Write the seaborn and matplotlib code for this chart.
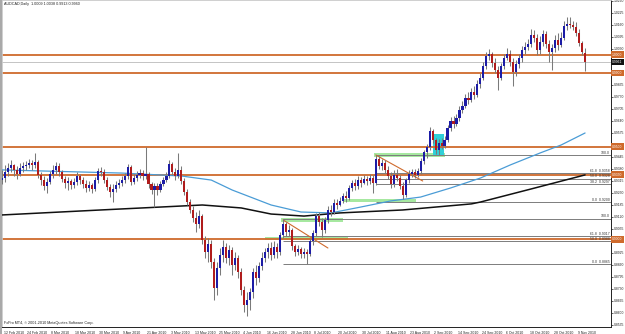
import numpy as np
import matplotlib
matplotlib.use("Agg")
import matplotlib.pyplot as plt
import matplotlib.transforms as mtransforms
from matplotlib.patches import Rectangle
import seaborn as sns

# ---------------- data ----------------
date_labels = ["12 Feb 2010", "24 Feb 2010", "8 Mar 2010", "18 Mar 2010", "30 Mar 2010",
               "9 Apr 2010", "21 Apr 2010", "3 May 2010", "13 May 2010", "25 May 2010",
               "4 Jun 2010", "16 Jun 2010", "28 Jun 2010", "8 Jul 2010", "20 Jul 2010",
               "30 Jul 2010", "11 Aug 2010", "23 Aug 2010", "2 Sep 2010", "14 Sep 2010",
               "24 Sep 2010", "6 Oct 2010", "18 Oct 2010", "28 Oct 2010", "9 Nov 2010"]
date_bars = [0, 8, 16, 24, 32, 40, 48, 56, 64, 72, 80, 88, 96, 104, 112, 120,
             128, 136, 144, 152, 160, 168, 176, 184, 192]

opens = [0.9320, 0.9331, 0.9364, 0.9385, 0.9401, 0.9375, 0.9353, 0.9385, 0.9396, 0.9401,
         0.9412, 0.9401, 0.9418, 0.9348, 0.9320, 0.9288, 0.9310, 0.9353, 0.9375, 0.9396,
         0.9364, 0.9326, 0.9304, 0.9315, 0.9293, 0.9310, 0.9342, 0.9320, 0.9299, 0.9277,
         0.9293, 0.9272, 0.9320, 0.9369, 0.9364, 0.9320, 0.9283, 0.9256, 0.9272, 0.9293,
         0.9304, 0.9320, 0.9342, 0.9391, 0.9310, 0.9331, 0.9348, 0.9358, 0.9342, 0.9353,
         0.9299, 0.9266, 0.9288, 0.9266, 0.9299, 0.9320, 0.9342, 0.9407, 0.9364, 0.9342,
         0.9375, 0.9315, 0.9256, 0.9201, 0.9158, 0.9115, 0.9082, 0.9125, 0.8995, 0.8930,
         0.8974, 0.8876, 0.8736, 0.8844, 0.8914, 0.8958, 0.8898, 0.8941, 0.8860, 0.8898,
         0.8822, 0.8725, 0.8643, 0.8670, 0.8714, 0.8822, 0.8790, 0.8855, 0.8898, 0.8930,
         0.8952, 0.8914, 0.8958, 0.8930, 0.9023, 0.9082, 0.9039, 0.9050, 0.8963, 0.8930,
         0.8947, 0.8920, 0.8930, 0.8920, 0.8990, 0.9034, 0.9125, 0.9093, 0.9050, 0.9104,
         0.9158, 0.9147, 0.9196, 0.9185, 0.9207, 0.9234, 0.9223, 0.9277, 0.9304, 0.9288,
         0.9320, 0.9304, 0.9326, 0.9315, 0.9331, 0.9304, 0.9434, 0.9396, 0.9412, 0.9375,
         0.9342, 0.9299, 0.9348, 0.9331, 0.9288, 0.9239, 0.9320, 0.9353, 0.9364, 0.9348,
         0.9369, 0.9423, 0.9472, 0.9499, 0.9586, 0.9537, 0.9483, 0.9521, 0.9505, 0.9537,
         0.9602, 0.9640, 0.9624, 0.9656, 0.9700, 0.9721, 0.9765, 0.9754, 0.9797, 0.9781,
         0.9840, 0.9873, 0.9938, 0.9992, 1.0003, 0.9954, 0.9916, 0.9873, 0.9938, 0.9981,
         1.0003, 0.9960, 0.9905, 0.9949, 0.9981, 1.0025, 1.0041, 1.0057, 1.0106, 1.0090,
         1.0025, 1.0068, 1.0112, 1.0057, 1.0014, 1.0035, 1.0079, 1.0052, 1.0090, 1.0155,
         1.0165, 1.0160, 1.0149, 1.0117, 1.0063, 1.0009]

highs = [0.9375, 0.9401, 0.9412, 0.9429, 0.9407, 0.9396, 0.9412, 0.9418, 0.9423, 0.9434,
         0.9429, 0.9467, 0.9429, 0.9364, 0.9342, 0.9331, 0.9369, 0.9401, 0.9418, 0.9412,
         0.9375, 0.9342, 0.9337, 0.9326, 0.9331, 0.9364, 0.9353, 0.9337, 0.9320, 0.9315,
         0.9304, 0.9337, 0.9385, 0.9391, 0.9380, 0.9337, 0.9299, 0.9299, 0.9315, 0.9326,
         0.9342, 0.9358, 0.9407, 0.9401, 0.9353, 0.9369, 0.9380, 0.9375, 0.9499, 0.9364,
         0.9310, 0.9304, 0.9304, 0.9315, 0.9337, 0.9364, 0.9429, 0.9418, 0.9385, 0.9467,
         0.9396, 0.9331, 0.9272, 0.9218, 0.9180, 0.9147, 0.9158, 0.9136, 0.9017, 0.9007,
         0.8995, 0.8898, 0.8876, 0.8952, 0.8995, 0.8979, 0.8969, 0.8958, 0.8930, 0.8914,
         0.8844, 0.8746, 0.8714, 0.8736, 0.8844, 0.8860, 0.8876, 0.8930, 0.8952, 0.8979,
         0.8985, 0.8990, 0.8979, 0.9039, 0.9109, 0.9093, 0.9077, 0.9061, 0.8974, 0.8969,
         0.8958, 0.8952, 0.8947, 0.9007, 0.9050, 0.9142, 0.9147, 0.9115, 0.9120, 0.9180,
         0.9185, 0.9218, 0.9218, 0.9229, 0.9250, 0.9261, 0.9293, 0.9320, 0.9326, 0.9342,
         0.9337, 0.9348, 0.9342, 0.9353, 0.9348, 0.9456, 0.9450, 0.9434, 0.9429, 0.9396,
         0.9364, 0.9375, 0.9380, 0.9348, 0.9310, 0.9331, 0.9375, 0.9380, 0.9380, 0.9385,
         0.9440, 0.9483, 0.9516, 0.9607, 0.9597, 0.9548, 0.9542, 0.9548, 0.9559, 0.9618,
         0.9662, 0.9667, 0.9678, 0.9721, 0.9748, 0.9786, 0.9797, 0.9819, 0.9829, 0.9862,
         0.9900, 0.9960, 1.0014, 1.0030, 1.0014, 0.9981, 0.9938, 0.9954, 1.0003, 1.0035,
         1.0025, 0.9981, 0.9970, 1.0003, 1.0046, 1.0068, 1.0084, 1.0138, 1.0133, 1.0112,
         1.0100, 1.0133, 1.0128, 1.0079, 1.0057, 1.0106, 1.0117, 1.0122, 1.0182, 1.0203,
         1.0203, 1.0182, 1.0176, 1.0138, 1.0073, 1.0038]

lows = [0.9299, 0.9310, 0.9342, 0.9364, 0.9342, 0.9326, 0.9342, 0.9364, 0.9375, 0.9385,
        0.9375, 0.9385, 0.9331, 0.9293, 0.9266, 0.9250, 0.9299, 0.9331, 0.9353, 0.9342,
        0.9310, 0.9277, 0.9266, 0.9272, 0.9277, 0.9293, 0.9299, 0.9277, 0.9256, 0.9261,
        0.9250, 0.9261, 0.9304, 0.9342, 0.9304, 0.9266, 0.9229, 0.9201, 0.9256, 0.9277,
        0.9288, 0.9304, 0.9326, 0.9293, 0.9299, 0.9315, 0.9331, 0.9320, 0.9326, 0.9277,
        0.9245, 0.9174, 0.9239, 0.9256, 0.9288, 0.9310, 0.9331, 0.9348, 0.9320, 0.9331,
        0.9299, 0.9239, 0.9185, 0.9142, 0.9093, 0.9039, 0.9061, 0.8974, 0.8898, 0.8876,
        0.8844, 0.8670, 0.8698, 0.8806, 0.8876, 0.8871, 0.8860, 0.8806, 0.8833, 0.8790,
        0.8698, 0.8605, 0.8584, 0.8616, 0.8682, 0.8752, 0.8768, 0.8833, 0.8876, 0.8898,
        0.8887, 0.8898, 0.8898, 0.8914, 0.9007, 0.9017, 0.9017, 0.8941, 0.8909, 0.8914,
        0.8898, 0.8898, 0.8866, 0.8909, 0.8969, 0.9017, 0.9071, 0.9012, 0.9034, 0.9088,
        0.9125, 0.9136, 0.9163, 0.9180, 0.9196, 0.9201, 0.9212, 0.9261, 0.9266, 0.9272,
        0.9283, 0.9299, 0.9293, 0.9299, 0.9250, 0.9293, 0.9380, 0.9375, 0.9358, 0.9326,
        0.9277, 0.9283, 0.9315, 0.9272, 0.9218, 0.9229, 0.9304, 0.9337, 0.9331, 0.9337,
        0.9353, 0.9407, 0.9440, 0.9483, 0.9521, 0.9461, 0.9456, 0.9488, 0.9494, 0.9526,
        0.9586, 0.9602, 0.9613, 0.9640, 0.9683, 0.9711, 0.9732, 0.9743, 0.9759, 0.9770,
        0.9819, 0.9862, 0.9922, 0.9970, 0.9933, 0.9900, 0.9808, 0.9862, 0.9922, 0.9970,
        0.9938, 0.9829, 0.9884, 0.9927, 0.9960, 1.0003, 1.0025, 1.0041, 1.0068, 0.9997,
        1.0003, 1.0046, 1.0035, 0.9960, 0.9916, 1.0014, 1.0025, 1.0041, 1.0079, 1.0133,
        1.0144, 1.0133, 1.0100, 1.0046, 0.9997, 0.9913]

closes = [0.9331, 0.9364, 0.9385, 0.9401, 0.9375, 0.9353, 0.9385, 0.9396, 0.9401, 0.9412,
          0.9401, 0.9418, 0.9348, 0.9320, 0.9288, 0.9310, 0.9353, 0.9375, 0.9396, 0.9364,
          0.9326, 0.9304, 0.9315, 0.9293, 0.9310, 0.9342, 0.9320, 0.9299, 0.9277, 0.9293,
          0.9272, 0.9320, 0.9369, 0.9364, 0.9320, 0.9283, 0.9256, 0.9272, 0.9293, 0.9304,
          0.9320, 0.9342, 0.9391, 0.9310, 0.9331, 0.9348, 0.9358, 0.9342, 0.9353, 0.9299,
          0.9266, 0.9288, 0.9266, 0.9299, 0.9320, 0.9342, 0.9407, 0.9364, 0.9342, 0.9375,
          0.9315, 0.9256, 0.9201, 0.9158, 0.9115, 0.9082, 0.9125, 0.8995, 0.8930, 0.8974,
          0.8876, 0.8736, 0.8844, 0.8914, 0.8958, 0.8898, 0.8941, 0.8860, 0.8898, 0.8822,
          0.8725, 0.8643, 0.8670, 0.8714, 0.8822, 0.8790, 0.8855, 0.8898, 0.8930, 0.8952,
          0.8914, 0.8958, 0.8930, 0.9023, 0.9082, 0.9039, 0.9050, 0.8963, 0.8930, 0.8947,
          0.8920, 0.8930, 0.8920, 0.8990, 0.9034, 0.9125, 0.9093, 0.9050, 0.9104, 0.9158,
          0.9147, 0.9196, 0.9185, 0.9207, 0.9234, 0.9223, 0.9277, 0.9304, 0.9288, 0.9320,
          0.9304, 0.9326, 0.9315, 0.9331, 0.9304, 0.9434, 0.9396, 0.9412, 0.9375, 0.9342,
          0.9299, 0.9348, 0.9331, 0.9288, 0.9239, 0.9320, 0.9353, 0.9364, 0.9348, 0.9369,
          0.9423, 0.9472, 0.9499, 0.9586, 0.9537, 0.9483, 0.9521, 0.9505, 0.9537, 0.9602,
          0.9640, 0.9624, 0.9656, 0.9700, 0.9721, 0.9765, 0.9754, 0.9797, 0.9781, 0.9840,
          0.9873, 0.9938, 0.9992, 1.0003, 0.9954, 0.9916, 0.9873, 0.9938, 0.9981, 1.0003,
          0.9960, 0.9905, 0.9949, 0.9981, 1.0025, 1.0041, 1.0057, 1.0106, 1.0090, 1.0025,
          1.0068, 1.0112, 1.0057, 1.0014, 1.0035, 1.0079, 1.0052, 1.0090, 1.0155, 1.0165,
          1.0160, 1.0149, 1.0117, 1.0063, 1.0014, 0.9960]

# moving averages (bar index, price)
blue_ma_bars = [0, 40, 60, 70, 77, 90, 100, 110, 120, 130, 140, 150, 160, 170, 180, 187, 195]
blue_ma = [0.9375, 0.9358, 0.9342, 0.9320, 0.9266, 0.9185, 0.9147, 0.9142, 0.9174, 0.9207,
           0.9228, 0.9277, 0.9331, 0.9402, 0.9467, 0.9510, 0.9575]
black_ma_bars = [0, 33, 67, 80, 90, 101, 113, 134, 157, 160, 177, 195]
black_ma = [0.9131, 0.9158, 0.9185, 0.9169, 0.9136, 0.9125, 0.9142, 0.9158, 0.9191, 0.9201,
            0.9272, 0.9348]

# horizontal levels
level_prices = [1.0000, 0.9900, 0.9500, 0.9350, 0.9000]
level_labels = ["1.0000", "0.9900", "0.9500", "0.9350", "0.9000"]
bid_price = 0.9960
bid_label = "0.9961"

price_ticks = [1.0290, 1.0225, 1.0160, 1.0095, 1.0030, 0.9965, 0.9900, 0.9835, 0.9770,
               0.9705, 0.9640, 0.9575, 0.9510, 0.9445, 0.9380, 0.9315, 0.9250, 0.9185,
               0.9120, 0.9055, 0.8990, 0.8925, 0.8860, 0.8795, 0.8730, 0.8665, 0.8600,
               0.8535]
# ticks whose labels sit under the coloured price boxes on the scale
hidden_ticks = [0.9965, 0.9900, 0.9510, 0.8990]

# fibonacci retracements
fib1_start = 125
fib1_prices = [0.9455, 0.9358, 0.9328, 0.9297, 0.9200]
fib1_labels = ["100.0", "61.8  0.9358", "50.0  0.9328", "38.2  0.9297", "0.0  0.9200"]
fib2_start = 94
fib2_prices = [0.9110, 0.9017, 0.8988, 0.8865]
fib2_labels = ["100.0", "61.8  0.9017", "50.0  0.8988", "0.0  0.8865"]

# trend lines
trend1_bars = [94, 109]
trend1_prices = [0.9104, 0.8952]
trend2_bars = [125, 140.7]
trend2_prices = [0.9456, 0.9315]

# highlight zones (bar_from, bar_to, price_low, price_high)
green_zones = [(124.3, 148.3, 0.9445, 0.9467),
               (114.0, 138.3, 0.9201, 0.9218),
               (93.3, 114.0, 0.9093, 0.9115),
               (88.0, 115.7, 0.8995, 0.9012)]
cyan_zone = (144.3, 147.7, 0.9456, 0.9570)

title_text = "AUDCAD,Daily  1.0009 1.0038 0.9913 0.9960"
footer_text = "FxPro MT4, \u00a9 2001-2010 MetaQuotes Software Corp."

# ---------------- style ----------------
sns.set_theme(style="white")
plt.rcParams['font.family'] = ['Liberation Sans', 'DejaVu Sans']

W, H = 625, 334
fig = plt.figure(figsize=(W / 100, H / 100), dpi=100)
fig.patch.set_facecolor("white")
ax = fig.add_axes([2 / W, 7 / H, 609 / W, 327 / H])
ax.set_facecolor("white")
fig.patches.append(Rectangle((0, 0), 2 / W, 1, transform=fig.transFigure,
                             facecolor="#a9a9a9", edgecolor="none"))

XMIN, XMAX = 0.67, 203.67
YMIN, YMAX = 0.85241, 1.02954
ax.set_xlim(XMIN, XMAX)
ax.set_ylim(YMIN, YMAX)

ORANGE = "#cf6a2c"
BULL = "#1c1ca6"
BEAR = "#b01c1c"
WICK = "#7a7a7a"
SCALE_FS = 2.45

# zones
for (x0, x1, p0, p1) in green_zones:
    ax.add_patch(Rectangle((x0, p0), x1 - x0, p1 - p0, facecolor="#a6e8a0",
                           edgecolor="none", zorder=1))
ax.add_patch(Rectangle((cyan_zone[0], cyan_zone[2]), cyan_zone[1] - cyan_zone[0],
                       cyan_zone[3] - cyan_zone[2], facecolor="#30d0d8",
                       edgecolor="none", zorder=1))

# horizontal levels
for p in level_prices:
    ax.axhline(p, color=ORANGE, lw=1.3, zorder=2)
ax.axhline(bid_price, color="#c4c4c4", lw=0.7, zorder=2)

# fib lines
for p, lab in zip(fib1_prices, fib1_labels):
    ax.hlines(p, fib1_start, XMAX, color="#7c7c7c", lw=0.7, zorder=2)
    ax.text(XMAX - 0.4, p + 0.0002, lab, ha="right", va="bottom", fontsize=2.5,
            color="#333333", zorder=6)
for p, lab in zip(fib2_prices, fib2_labels):
    ax.hlines(p, fib2_start, XMAX, color="#7c7c7c", lw=0.7, zorder=2)
    ax.text(XMAX - 0.4, p + 0.0002, lab, ha="right", va="bottom", fontsize=2.5,
            color="#333333", zorder=6)

# moving averages
sns.lineplot(x=blue_ma_bars, y=blue_ma, ax=ax, color="#4a9cd6", lw=0.9,
             estimator=None, sort=False, zorder=3)
sns.lineplot(x=black_ma_bars, y=black_ma, ax=ax, color="#111111", lw=1.1,
             estimator=None, sort=False, zorder=3)

# trend lines
ax.plot(trend1_bars, trend1_prices, color=ORANGE, lw=0.8, zorder=3)
ax.plot(trend2_bars, trend2_prices, color=ORANGE, lw=0.8, zorder=3)

# candles
o = np.array(opens); h = np.array(highs); l = np.array(lows); c = np.array(closes)
bars = np.arange(len(c))
up = c >= o
ax.vlines(bars, l, h, color=WICK, lw=0.75, zorder=4)
body_min = 0.00035
ax.bar(bars[up], np.maximum(c[up] - o[up], body_min), bottom=o[up], width=0.7,
       color=BULL, linewidth=0, zorder=5)
ax.bar(bars[~up], np.maximum(o[~up] - c[~up], body_min), bottom=c[~up], width=0.7,
       color=BEAR, linewidth=0, zorder=5)

# axes / ticks
for side in ["left", "top"]:
    ax.spines[side].set_color("#c8c8c8")
    ax.spines[side].set_linewidth(0.6)
for side in ["right", "bottom"]:
    ax.spines[side].set_color("#222222")
    ax.spines[side].set_linewidth(0.7)

ax.yaxis.tick_right()
ax.set_yticks(price_ticks)
ax.set_yticklabels(["" if t in hidden_ticks else f"{t:.4f}" for t in price_ticks])
ax.tick_params(axis="y", which="both", direction="out", length=1.5, width=0.5,
               pad=0.6, labelsize=SCALE_FS, colors="#222222", left=False, right=True)
ax.set_xticks(date_bars)
ax.set_xticklabels(date_labels)
ax.tick_params(axis="x", direction="out", length=2, width=0.5, pad=0.8,
               labelsize=2.5, colors="#222222")
offset = mtransforms.ScaledTranslation(1.5 / 100, 0, fig.dpi_scale_trans)
for lbl in ax.get_xticklabels():
    lbl.set_horizontalalignment("left")
    lbl.set_transform(lbl.get_transform() + offset)
ax.set_xlabel("")
ax.set_ylabel("")

# price boxes on the right scale
blend = mtransforms.blended_transform_factory(ax.transAxes, ax.transData)
box_x = 1.0 + 1.2 / 609
for p, lab in zip(level_prices, level_labels):
    ax.text(box_x, p, lab, transform=blend, ha="left", va="center",
            fontsize=SCALE_FS, color="white", clip_on=False, zorder=10,
            bbox=dict(boxstyle="square,pad=0.4", fc=ORANGE, ec="none"))
ax.text(box_x, bid_price, bid_label, transform=blend, ha="left", va="center",
        fontsize=SCALE_FS, color="white", clip_on=False, zorder=10,
        bbox=dict(boxstyle="square,pad=0.4", fc="#111111", ec="none"))

# texts
fig.text(4 / W, 1 - 4.5 / H, title_text, ha="left", va="center", fontsize=2.7,
         color="#222222")
fig.text(4 / W, 1 - 323 / H, footer_text, ha="left", va="center", fontsize=2.7,
         color="#222222")

fig.savefig("out.png", dpi=100)
